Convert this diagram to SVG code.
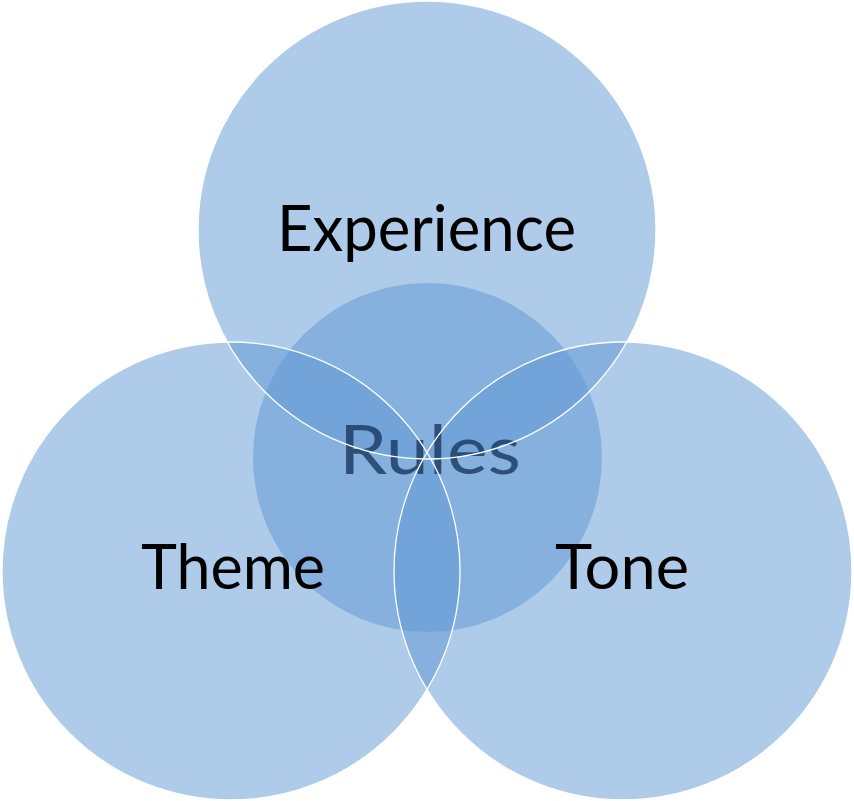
<svg xmlns="http://www.w3.org/2000/svg" width="854" height="801" viewBox="0 0 854 801">
  <style>
    .fill { fill: #5d97d3; fill-opacity: 0.5; }
    .edge { fill: none; stroke: #ffffff; stroke-width: 1.3; }
    .lbl { font-family: Lato, "Open Sans", "Liberation Sans", sans-serif; fill: #000000; }
    .core { font-family: Lato, "Open Sans", "Liberation Sans", sans-serif; fill: #17375e; fill-opacity: 0.8; }
  </style>
  <rect width="854" height="801" fill="#ffffff"/>
  <g id="rules">
    <circle class="fill" cx="427.5" cy="457.5" r="174.5"/>
  </g>
  <g id="experience">
    <circle class="fill" cx="427" cy="230" r="229"/>
  </g>
  <g id="theme">
    <circle class="fill" cx="231" cy="571" r="229"/>
  </g>
  <g id="tone">
    <circle class="fill" cx="623" cy="571" r="229"/>
  </g>
  <g id="rules-label">
    <text class="core" x="339" y="474" font-size="67" textLength="182" lengthAdjust="spacingAndGlyphs">Rules</text>
  </g>
  <g id="outlines">
    <circle class="edge" cx="427" cy="230" r="229"/>
    <circle class="edge" cx="231" cy="571" r="229"/>
    <circle class="edge" cx="623" cy="571" r="229"/>
  </g>
  <g id="labels">
    <text class="lbl" x="277" y="251" font-size="64" textLength="299" lengthAdjust="spacingAndGlyphs">Experience</text>
    <text class="lbl" x="141" y="589" font-size="62" textLength="184" lengthAdjust="spacingAndGlyphs">Theme</text>
    <text class="lbl" x="555" y="589" font-size="62" textLength="134" lengthAdjust="spacingAndGlyphs">Tone</text>
  </g>
</svg>
